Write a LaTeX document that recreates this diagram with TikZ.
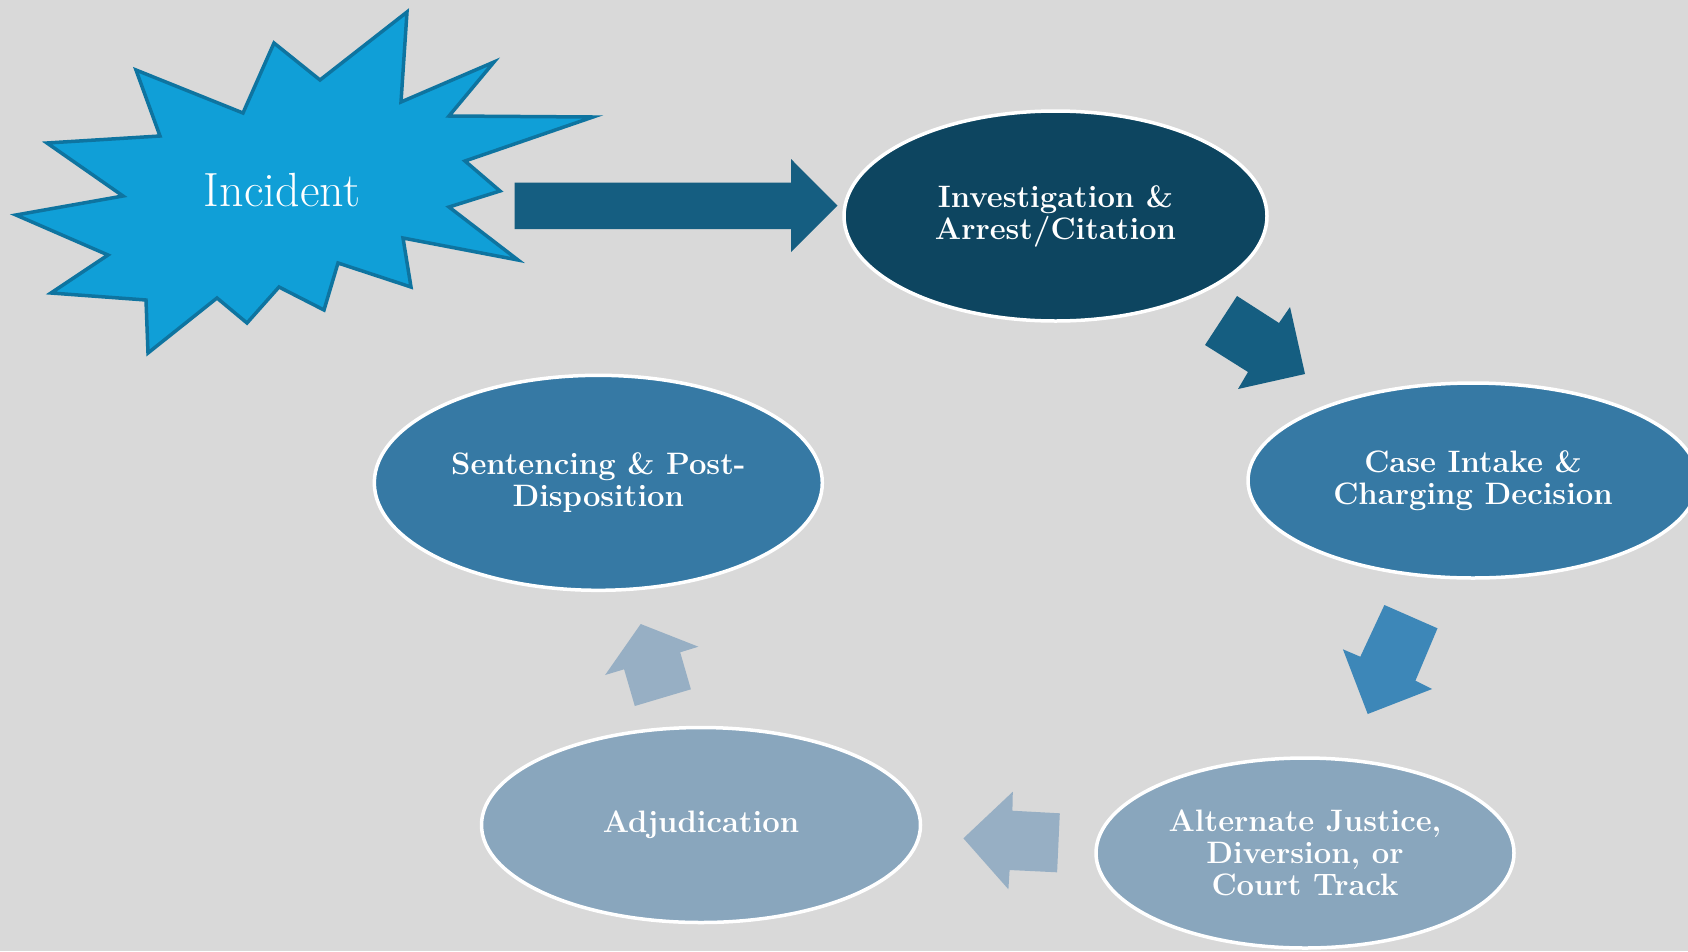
\documentclass[tikz,border=0pt]{standalone}
\usepackage{fontspec}
\usetikzlibrary{shapes.geometric}
\definecolor{bg}{HTML}{D9D9D9}
\definecolor{burstfill}{HTML}{109FD7}
\definecolor{burstline}{HTML}{0E74A0}
\definecolor{darkarrow}{HTML}{155E81}
\definecolor{darkell}{HTML}{0D4560}
\definecolor{midell}{HTML}{3679A4}
\definecolor{midarrow}{HTML}{3D87B8}
\definecolor{lightell}{HTML}{89A6BD}
\definecolor{lightarrow}{HTML}{97AFC4}
\tikzset{
  stage/.style={ellipse, draw=white, line width=3.5pt, inner sep=0pt, text=white,
    align=center, font=\bfseries\fontsize{31}{32}\selectfont},
}
\begin{document}
\begin{tikzpicture}[x=1pt,y=-1pt]
\fill[bg] (0,0) rectangle (1688,951);
\useasboundingbox (0,0) rectangle (1688,951);
% starburst
\filldraw[fill=burstfill, draw=burstline, line width=3.5pt, line join=miter]
 (407,12) -- (401,102) -- (494,62) -- (449,116) -- (593,117) -- (465,161) -- (500,191)
 -- (449,207) -- (518,260) -- (403,238) -- (411,287) -- (338,263) -- (324,310)
 -- (279,287) -- (247,323) -- (217,298) -- (148,353) -- (146,300) -- (51,293)
 -- (108,255) -- (16,215) -- (123,196) -- (47,143) -- (160,136) -- (136,70)
 -- (243,113) -- (274,43) -- (320,80) -- cycle;
\node[text=white, font=\fontsize{48}{52}\selectfont] (incident) at (282,190) {Incident};
% stages
\node[stage, fill=darkell, minimum width=423pt, minimum height=210pt] (inv) at (1055.5,216) {Investigation \&\\Arrest/Citation};
\node[stage, fill=midell, minimum width=450pt, minimum height=195pt] (case) at (1473,480.5) {Case Intake \&\\Charging Decision};
\node[stage, fill=lightell, minimum width=418pt, minimum height=190pt] (alt) at (1305,853) {Alternate Justice,\\Diversion, or\\Court Track};
\node[stage, fill=lightell, minimum width=439pt, minimum height=195pt] (adj) at (701,825) {Adjudication};
\node[stage, fill=midell, minimum width=448pt, minimum height=215pt] (sent) at (598.3,482.8) {Sentencing \& Post-\\Disposition};
% block arrows
\fill[darkarrow] (514.6,182.5) -- (791,182.5) -- (791,159) -- (837.5,205.6) -- (791,252) -- (791,229) -- (514.6,229) -- cycle;
\fill[darkarrow] (1237,296) -- (1279,323) -- (1290,307) -- (1305,374) -- (1238,389) -- (1248,372) -- (1205,345) -- cycle;
\fill[midarrow] (1384.4,605) -- (1437.5,628.3) -- (1415.4,680.7) -- (1432.1,689) -- (1367.7,714) -- (1342.9,649.3) -- (1360.3,656.7) -- cycle;
\fill[lightarrow] (1012.8,791.7) -- (1012.4,810.7) -- (1059.8,813.3) -- (1057.1,872.3) -- (1009.6,870) -- (1008.4,889.3) -- (963.4,838.3) -- cycle;
\fill[lightarrow] (640.7,624) -- (698.4,646.7) -- (680.2,652.3) -- (690.9,689.3) -- (634.8,706) -- (624.1,669.3) -- (605.1,675) -- cycle;
\end{tikzpicture}
\end{document}
